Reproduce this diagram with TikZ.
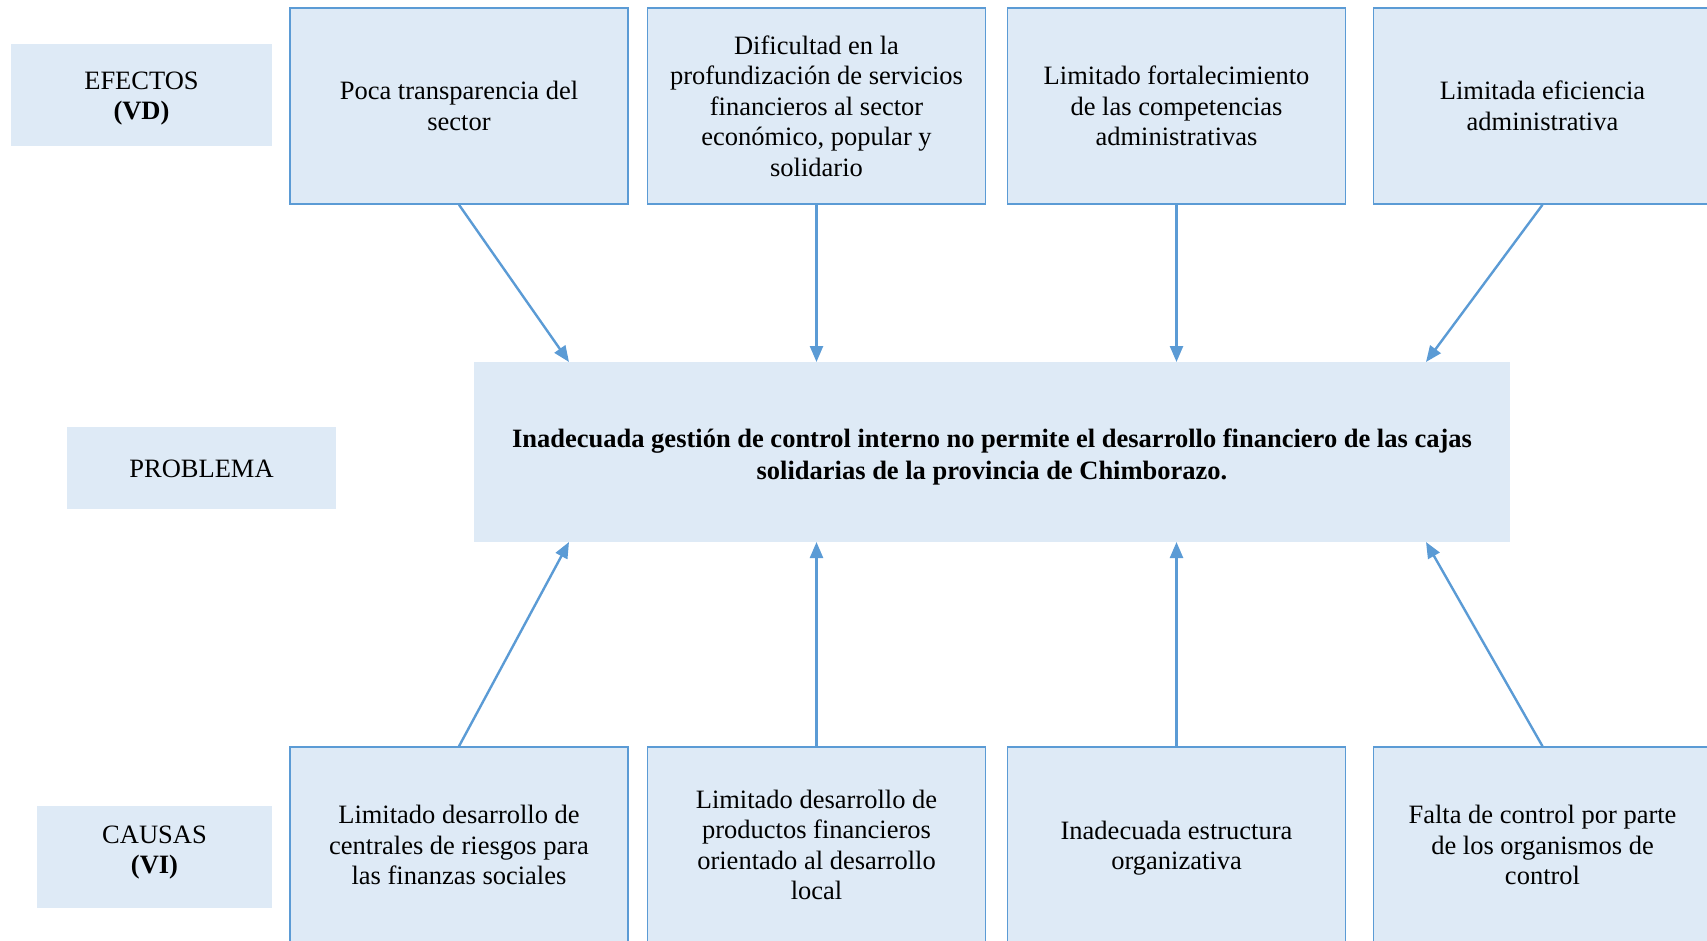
\documentclass[tikz,border=0pt]{standalone}
\usepackage{fontspec}
\setmainfont{Liberation Serif}
\usepackage{tikz}
\usetikzlibrary{positioning, arrows.meta, calc}

\definecolor{relleno}{HTML}{DEEAF6}
\definecolor{borde}{HTML}{5B9BD5}

% mueve el texto sin mover la caja
\newcommand{\bajar}[2]{\raisebox{-#1}[\height][\depth]{\begin{tabular}{@{}c@{}}#2\end{tabular}}}

\tikzset{
  caja/.style={draw=borde, line width=1.5pt, fill=relleno, align=center,
    minimum width=338pt, minimum height=196pt, inner sep=0pt,
    font=\fontsize{26.5}{30.5}\selectfont},
  etiqueta/.style={fill=relleno, align=center, inner sep=0pt,
    font=\fontsize{26.5}{30.5}\selectfont},
  flecha/.style={draw=borde, line width=2.4pt, -{Triangle[length=16pt, width=13pt]}}
}

\begin{document}
\begin{tikzpicture}[x=1pt, y=-1pt]
\clip (0, 0) rectangle (1707, 940);

\node[etiqueta, minimum width=261pt, minimum height=102pt] (efectos) at (141.5, 95) {\bajar{3.5pt}{EFECTOS\\\textbf{(VD)}}};
\node[etiqueta, minimum width=269pt, minimum height=82pt] (problema) at (201.5, 468) {\bajar{3.5pt}{PROBLEMA}};
\node[etiqueta, minimum width=235pt, minimum height=102pt] (causas) at (154.5, 857) {\bajar{-4.5pt}{CAUSAS\\\textbf{(VI)}}};

\node[caja] (e1) at (459, 106) {Poca transparencia del\\sector};
\node[caja] (e2) at (816.5, 106) {Dificultad en la\\profundización de servicios\\financieros al sector\\económico, popular y\\solidario};
\node[caja] (e3) at (1176.5, 106) {Limitado fortalecimiento\\de las competencias\\administrativas};
\node[caja] (e4) at (1542.5, 106) {Limitada eficiencia\\administrativa};

\node[etiqueta, minimum width=1036pt, minimum height=180pt, font=\fontsize{26.5}{32.5}\selectfont\bfseries] (prob) at (992, 452)
  {\bajar{5pt}{Inadecuada gestión de control interno no permite el desarrollo financiero de las cajas\\solidarias de la provincia de Chimborazo.}};

\node[caja] (c1) at (459, 845) {Limitado desarrollo de\\centrales de riesgos para\\las finanzas sociales};
\node[caja] (c2) at (816.5, 845) {Limitado desarrollo de\\productos financieros\\orientado al desarrollo\\local};
\node[caja] (c3) at (1176.5, 845) {\bajar{3.5pt}{Inadecuada estructura\\organizativa}};
\node[caja] (c4) at (1542.5, 845) {Falta de control por parte\\de los organismos de\\control};

\coordinate (a1) at (569, 362);
\coordinate (a2) at (816.5, 362);
\coordinate (a3) at (1176.5, 362);
\coordinate (a4) at (1426, 362);
\coordinate (b1) at (569, 542);
\coordinate (b2) at (816.5, 542);
\coordinate (b3) at (1176.5, 542);
\coordinate (b4) at (1426, 542);

\foreach \i in {1,2,3,4}{
  \draw[flecha] (e\i.south) -- (a\i);
  \draw[flecha] (c\i.north) -- (b\i);
}
\end{tikzpicture}
\end{document}
